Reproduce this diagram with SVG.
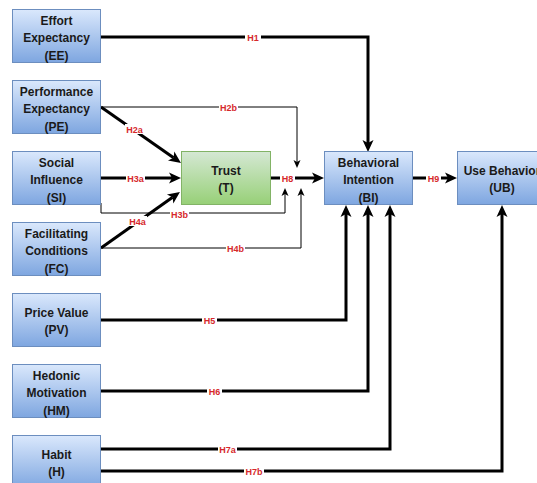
<svg xmlns="http://www.w3.org/2000/svg" width="537" height="483" viewBox="0 0 537 483">
<defs>
<linearGradient id="gb" x1="0" y1="0" x2="0" y2="1"><stop offset="0" stop-color="#dae8fc"/><stop offset="1" stop-color="#7ea6e0"/></linearGradient>
<linearGradient id="gg" x1="0" y1="0" x2="0" y2="1"><stop offset="0" stop-color="#d5e8d4"/><stop offset="1" stop-color="#97d077"/></linearGradient>
<marker id="ak" markerUnits="userSpaceOnUse" markerWidth="14" markerHeight="12" refX="3" refY="5.5" orient="auto" overflow="visible"><path d="M0,0 L12,5.5 L0,11 L3,5.5 Z" fill="#000"/></marker>
<marker id="at" markerUnits="userSpaceOnUse" markerWidth="10" markerHeight="8" refX="2" refY="3.5" orient="auto" overflow="visible"><path d="M0,0 L8,3.5 L0,7 L2,3.5 Z" fill="#000"/></marker>
</defs>
<style>
.bx{fill:url(#gb);stroke:#6c8ebf;stroke-width:1}
.gx{fill:url(#gg);stroke:#82b366;stroke-width:1}
.t{font-family:"Liberation Sans",Arial,sans-serif;font-weight:bold;font-size:12px;fill:#1a1a1a;text-anchor:middle}
.k{fill:none;stroke:#000;stroke-width:3;marker-end:url(#ak)}
.n{fill:none;stroke:#000;stroke-width:1;marker-end:url(#at)}
.lb{font-family:"Liberation Sans",Arial,sans-serif;font-weight:bold;font-size:9px;fill:#d6282b;text-anchor:middle}
.lbg{fill:#fff}
</style>
<g id="connectors">
<path class="k" d="M101,37 H368 V143"/>
<path class="n" d="M101,107 H297 V162"/>
<path class="k" d="M101,107 L173.6,157.8"/>
<path class="k" d="M101,178 H172"/>
<path class="n" d="M101,203 V213 H285 V194"/>
<path class="k" d="M101,248 L172.6,197.2"/>
<path class="n" d="M101,248 H301 V194"/>
<path class="k" d="M271,178 H315"/>
<path class="k" d="M413,178 H448"/>
<path class="k" d="M101,320 H346 V214"/>
<path class="k" d="M101,391 H368 V214"/>
<path class="k" d="M101,449 H390 V214"/>
<path class="k" d="M101,471 H502 V214"/>
<g id="labels">
<rect class="lbg" x="245" y="32" width="16" height="10"/><text class="lb" x="253" y="40.5">H1</text>
<rect class="lbg" x="219" y="102" width="19" height="10"/><text class="lb" x="228.5" y="110.5">H2b</text>
<rect class="lbg" x="125" y="124" width="19" height="10"/><text class="lb" x="134.5" y="132.5">H2a</text>
<rect class="lbg" x="126" y="173" width="19" height="10"/><text class="lb" x="135.5" y="181.5">H3a</text>
<rect class="lbg" x="170" y="209" width="19" height="10"/><text class="lb" x="179.5" y="217.5">H3b</text>
<rect class="lbg" x="128" y="216" width="19" height="10"/><text class="lb" x="137.5" y="224.5">H4a</text>
<rect class="lbg" x="226" y="243" width="19" height="10"/><text class="lb" x="235.5" y="251.5">H4b</text>
<rect class="lbg" x="280" y="173" width="15" height="10"/><text class="lb" x="287.5" y="181.5">H8</text>
<rect class="lbg" x="426" y="173" width="15" height="10"/><text class="lb" x="433.5" y="181.5">H9</text>
<rect class="lbg" x="202" y="315" width="15" height="10"/><text class="lb" x="209.5" y="323.5">H5</text>
<rect class="lbg" x="207" y="386" width="15" height="10"/><text class="lb" x="214.5" y="394.5">H6</text>
<rect class="lbg" x="218" y="444" width="19" height="10"/><text class="lb" x="227.5" y="452.5">H7a</text>
<rect class="lbg" x="244" y="466" width="20" height="10"/><text class="lb" x="254" y="474.5">H7b</text>
</g>
</g>
<g id="EE"><rect class="bx" x="12.5" y="9.5" width="88" height="53"/><text class="t" x="56.5" y="25">Effort</text><text class="t" x="56.5" y="42.3">Expectancy</text><text class="t" x="56.5" y="59.6">(EE)</text></g>
<g id="PE"><rect class="bx" x="12.5" y="80.5" width="88" height="53"/><text class="t" x="56.5" y="96">Performance</text><text class="t" x="56.5" y="113.3">Expectancy</text><text class="t" x="56.5" y="130.6">(PE)</text></g>
<g id="SI"><rect class="bx" x="12.5" y="151.5" width="88" height="53"/><text class="t" x="56.5" y="167">Social</text><text class="t" x="56.5" y="184.3">Influence</text><text class="t" x="56.5" y="201.6">(SI)</text></g>
<g id="FC"><rect class="bx" x="12.5" y="222.5" width="88" height="53"/><text class="t" x="56.5" y="238">Facilitating</text><text class="t" x="56.5" y="255.3">Conditions</text><text class="t" x="56.5" y="272.6">(FC)</text></g>
<g id="PV"><rect class="bx" x="12.5" y="293.5" width="88" height="53"/><text class="t" x="56.5" y="317">Price Value</text><text class="t" x="56.5" y="334">(PV)</text></g>
<g id="HM"><rect class="bx" x="12.5" y="364.5" width="88" height="53"/><text class="t" x="56.5" y="380">Hedonic</text><text class="t" x="56.5" y="397.3">Motivation</text><text class="t" x="56.5" y="414.6">(HM)</text></g>
<g id="H"><rect class="bx" x="12.5" y="435.5" width="88" height="53"/><text class="t" x="56.5" y="459">Habit</text><text class="t" x="56.5" y="476">(H)</text></g>
<g id="T"><rect class="gx" x="181.5" y="151.5" width="89" height="53"/><text class="t" x="226" y="175">Trust</text><text class="t" x="226" y="192">(T)</text></g>
<g id="BI"><rect class="bx" x="324.5" y="151.5" width="88" height="53"/><text class="t" x="368.5" y="167">Behavioral</text><text class="t" x="368.5" y="184.3">Intention</text><text class="t" x="368.5" y="201.6">(BI)</text></g>
<g id="UB"><rect class="bx" x="457.5" y="151.5" width="89" height="53"/><text class="t" x="502" y="175">Use Behavior</text><text class="t" x="502" y="192">(UB)</text></g>
</svg>
